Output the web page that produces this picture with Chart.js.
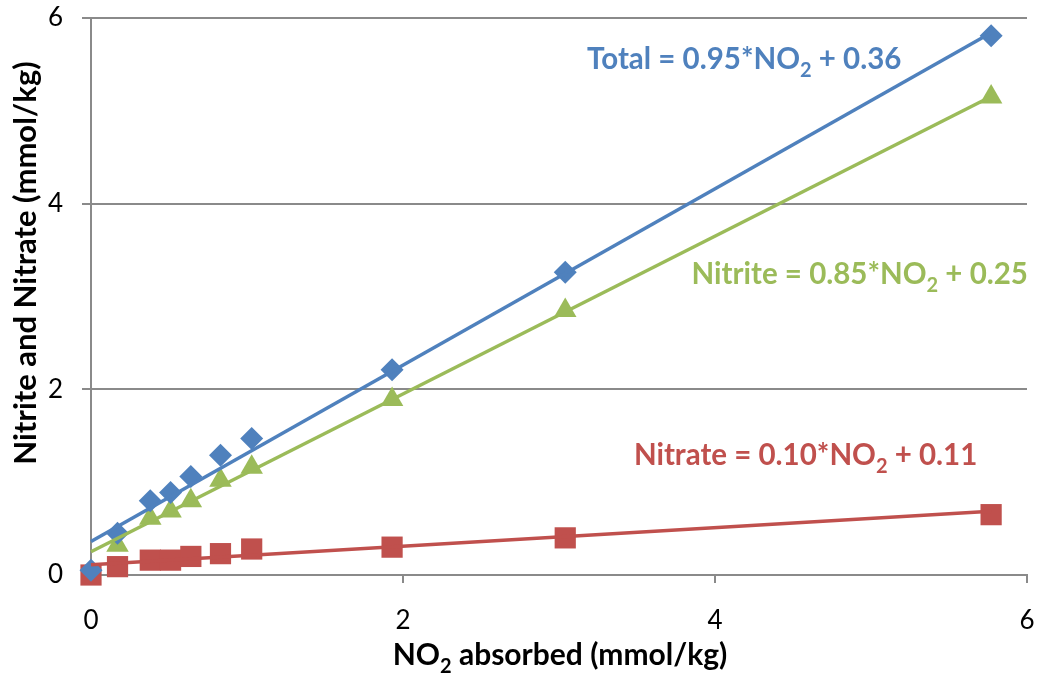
<!DOCTYPE html>
<html>
<head>
<meta charset="utf-8">
<script src="https://cdn.jsdelivr.net/npm/chart.js@4.4.1/dist/chart.umd.min.js"></script>
<style>
  html, body { margin: 0; padding: 0; background: #ffffff; }
  canvas { display: block; }
</style>
</head>
<body>
<canvas id="chart" width="1042" height="680"></canvas>
<script>
// Measured samples: NO2 absorbed vs. nitrite / nitrate found (mmol/kg)
const no2Absorbed   = [0, 0.17, 0.38, 0.51, 0.64, 0.83, 1.03, 1.93, 3.04, 5.77];
const totalValues   = [0.05, 0.45, 0.80, 0.89, 1.06, 1.29, 1.47, 2.21, 3.26, 5.81];
const nitriteValues = [null, 0.32, 0.61, 0.69, 0.80, 1.02, 1.16, 1.89, 2.85, 5.15];
const nitrateValues = [0.00, 0.09, 0.16, 0.16, 0.20, 0.23, 0.28, 0.30, 0.40, 0.65];

// Linear fits: y = slope * NO2 + intercept
const fitNames      = ['Total', 'Nitrite', 'Nitrate'];
const fitSlopes     = [0.95, 0.85, 0.10];
const fitIntercepts = [0.36, 0.25, 0.11];

// Axis tick values and titles
const axisTicks = [0, 2, 4, 6];
const xTitleParts = ['NO', '2', ' absorbed (mmol/kg)'];
const yTitleText = 'Nitrite and Nitrate (mmol/kg)';

// Styling
const COLORS = { Total: '#4F81BD', Nitrite: '#9BBB59', Nitrate: '#C0504D' };
const GRID = '#8a8a8a';
const FONT = 'Lato';

// Where each fit equation sits, in data units (left edge, baseline)
const eqPlacement = {
  Total:   { x: 3.18, y: 5.45 },
  Nitrite: { x: 3.85, y: 3.13 },
  Nitrate: { x: 3.48, y: 1.18 }
};

const pts = (ys) => no2Absorbed.map((x, i) => ({ x, y: ys[i] })).filter(p => p.y !== null);
const xMax = Math.max(...no2Absorbed);

const fitLines = fitNames.map((name, i) => ({
  label: name + ' fit',
  type: 'line',
  data: [0, xMax].map(x => ({ x, y: fitSlopes[i] * x + fitIntercepts[i] })),
  borderColor: COLORS[name],
  borderWidth: 3.5,
  pointRadius: 0,
  showLine: true,
  fill: false,
  clip: false
}));

const markerSets = [
  { label: 'Total', data: pts(totalValues), pointStyle: 'rectRot', pointRadius: 11.5,
    backgroundColor: COLORS.Total, borderColor: COLORS.Total },
  { label: 'Nitrate', data: pts(nitrateValues), pointStyle: 'rect', pointRadius: 15,
    backgroundColor: COLORS.Nitrate, borderColor: COLORS.Nitrate },
  { label: 'Nitrite', data: pts(nitriteValues), pointStyle: 'triangle', pointRadius: 13,
    backgroundColor: COLORS.Nitrite, borderColor: COLORS.Nitrite }
].map(d => Object.assign({ showLine: false, borderWidth: 0, clip: false, pointHoverRadius: d.pointRadius }, d));

// Draw text made of normal / subscript runs
function drawRich(ctx, parts, x, y, size, color, align) {
  const subSize = Math.round(size * 0.68);
  const fonts = parts.map((p, i) => (i % 2 === 1 ? subSize : size));
  ctx.save();
  ctx.fillStyle = color;
  ctx.textBaseline = 'alphabetic';
  ctx.textAlign = 'left';
  let total = 0;
  const widths = parts.map((p, i) => {
    ctx.font = 'bold ' + fonts[i] + 'px ' + FONT;
    const w = ctx.measureText(p).width;
    total += w;
    return w;
  });
  let cx = align === 'center' ? x - total / 2 : x;
  parts.forEach((p, i) => {
    ctx.font = 'bold ' + fonts[i] + 'px ' + FONT;
    const dy = i % 2 === 1 ? Math.round(size * 0.26) : 0;
    ctx.fillText(p, cx, y + dy);
    cx += widths[i];
  });
  ctx.restore();
}

const labelsPlugin = {
  id: 'fitLabels',
  afterDraw(chart) {
    const { ctx, scales, chartArea } = chart;
    const xs = scales.x, ys = scales.y;

    // Fit equations
    fitNames.forEach((name, i) => {
      const parts = [
        name + ' = ' + fitSlopes[i].toFixed(2) + '*NO', '2',
        ' + ' + fitIntercepts[i].toFixed(2)
      ];
      const pos = eqPlacement[name];
      drawRich(ctx, parts, xs.getPixelForValue(pos.x), ys.getPixelForValue(pos.y), 29.5, COLORS[name], 'left');
    });

    // X axis title
    drawRich(ctx, xTitleParts, (chartArea.left + chartArea.right) / 2 + 1, 665, 30, '#000000', 'center');

    // Y axis title
    ctx.save();
    ctx.translate(36, 263);
    ctx.rotate(-Math.PI / 2);
    ctx.font = 'bold 31px ' + FONT;
    ctx.fillStyle = '#000000';
    ctx.textAlign = 'center';
    ctx.textBaseline = 'alphabetic';
    ctx.fillText(yTitleText, 0, 0);
    ctx.restore();
  }
};

const tickFont = { family: FONT, size: 26, weight: 'normal' };

new Chart(document.getElementById('chart'), {
  type: 'scatter',
  data: { datasets: [...fitLines, ...markerSets] },
  options: {
    responsive: false,
    animation: false,
    devicePixelRatio: 1,
    layout: { padding: { top: 18, right: 14, left: 0, bottom: 0 } },
    plugins: { legend: { display: false }, tooltip: { enabled: false } },
    scales: {
      x: {
        type: 'linear', min: 0, max: 6,
        afterBuildTicks: s => { s.ticks = axisTicks.map(v => ({ value: v })); },
        afterFit: s => { s.height = 105; s.paddingLeft = 0; s.paddingRight = 0; },
        ticks: { font: tickFont, color: '#000000', padding: 22, maxRotation: 0 },
        grid: { drawOnChartArea: false, drawTicks: true, tickLength: 8, color: GRID, lineWidth: 2 },
        border: { display: true, color: GRID, width: 2 }
      },
      y: {
        type: 'linear', min: 0, max: 6,
        afterBuildTicks: s => { s.ticks = axisTicks.map(v => ({ value: v })); },
        afterFit: s => { s.width = 91; s.paddingTop = 0; s.paddingBottom = 0; },
        ticks: { font: tickFont, color: '#000000', padding: 19 },
        grid: { drawOnChartArea: true, drawTicks: true, tickLength: 9, color: GRID, lineWidth: 2 },
        border: { display: true, color: GRID, width: 2 }
      }
    }
  },
  plugins: [labelsPlugin]
});
</script>
</body>
</html>
